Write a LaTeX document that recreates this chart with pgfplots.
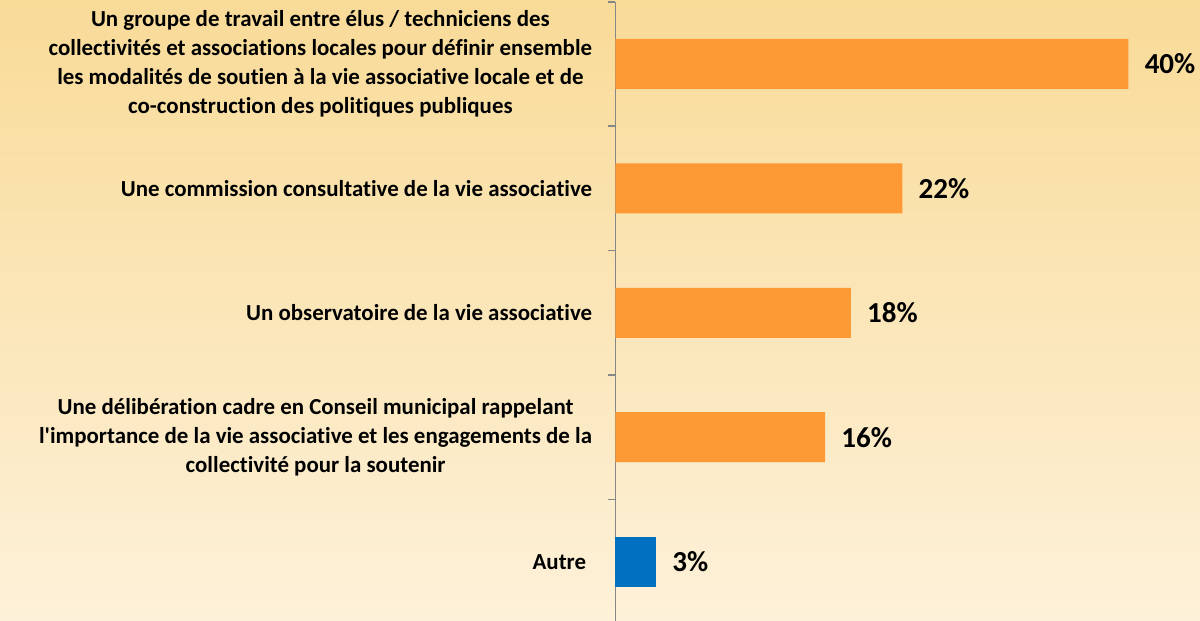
\documentclass[border=0pt]{standalone}
\usepackage{fontspec}
\defaultfontfeatures[\rmfamily]{}
\setmainfont{Carlito}[Ligatures=NoCommon]
\usepackage{pgfplots}
\pgfplotsset{compat=1.18}
\definecolor{bgtop}{HTML}{F9DB98}
\definecolor{bgbot}{HTML}{FDF1D9}
\definecolor{barorange}{HTML}{FE9A36}
\definecolor{barblue}{HTML}{0070C0}
\definecolor{axisgray}{HTML}{878787}

\begin{document}
\begin{tikzpicture}
\shade[top color=bgtop, bottom color=bgbot] (0,0) rectangle (600pt,310.5pt);
\useasboundingbox (0,0) rectangle (600pt,310.5pt);
\begin{axis}[
    at={(307.75pt,-1.45pt)},
    anchor=south west,
    scale only axis,
    width=288.5pt,
    height=311.1pt,
    xbar,
    bar width=25pt,
    xmin=0, xmax=45,
    ymin=-0.5, ymax=4.5,
    hide x axis,
    axis y line*=left,
    axis line style={draw=axisgray, line width=0.9pt, -},
    ytick={0,1,2,3,4},
    yticklabels={
        {Autre\hspace*{3pt}},
        {Une délibération cadre en Conseil municipal rappelant\\l'importance de la vie associative et les engagements de la\\collectivité pour la soutenir},
        {Un observatoire de la vie associative},
        {Une commission consultative de la vie associative},
        {Un groupe de travail entre élus / techniciens des\\collectivités et associations locales pour définir ensemble\\les modalités de soutien à la vie associative locale et de\\co-construction des politiques publiques}
    },
    yticklabel style={align=center, anchor=east, inner sep=0pt, xshift=-11.5pt,
        font=\bfseries\fontsize{11.45}{14.6}\selectfont},
    major tick length=0pt,
    minor ytick={-0.5,0.5,...,4.5},
    minor tick length=3.5pt,
    tick align=outside,
    tick pos=left,
    minor tick style={draw=axisgray, line width=0.9pt},
    clip=false,
    point meta=explicit symbolic,
    nodes near coords,
    nodes near coords style={anchor=west, inner sep=0pt, xshift=8pt,
        font=\bfseries\fontsize{14.5}{17}\selectfont, text=black},
]
\addplot[fill=barorange, draw=none, bar shift=0pt] coordinates {
    (16.34,1) [16\%]
    (18.35,2) [18\%]
    (22.37,3) [22\%]
    (40,4) [40\%]
};
\addplot[fill=barblue, draw=none, bar shift=0pt] coordinates {
    (3.16,0) [3\%]
};
\end{axis}
\end{tikzpicture}
\end{document}
